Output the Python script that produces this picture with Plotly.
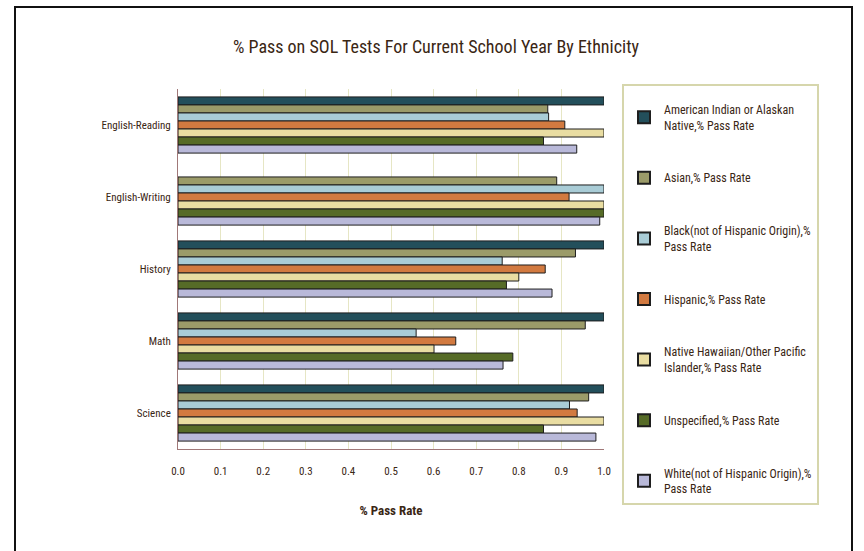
import plotly.graph_objects as go

categories = ["English-Reading", "English-Writing", "History", "Math", "Science"]

series_names = [
    "American Indian or Alaskan<br>Native,% Pass Rate",
    "Asian,% Pass Rate",
    "Black(not of Hispanic Origin),%<br>Pass Rate",
    "Hispanic,% Pass Rate",
    "Native Hawaiian/Other Pacific<br>Islander,% Pass Rate",
    "Unspecified,% Pass Rate",
    "White(not of Hispanic Origin),%<br>Pass Rate",
]

american_indian = [1.0, None, 1.0, 1.0, 1.0]
asian = [0.868, 0.889, 0.933, 0.956, 0.964]
black = [0.870, 1.0, 0.761, 0.559, 0.919]
hispanic = [0.908, 0.918, 0.862, 0.652, 0.937]
native_hawaiian = [1.0, 1.0, 0.800, 0.601, 1.0]
unspecified = [0.858, 1.0, 0.771, 0.786, 0.858]
white = [0.936, 0.990, 0.878, 0.763, 0.981]

series_values = [american_indian, asian, black, hispanic, native_hawaiian, unspecified, white]
colors = ["#234f5b", "#9b9b69", "#a9ccd6", "#d27a40", "#e9dda2", "#566b27", "#b9b9d9"]

x_ticks = [0.0, 0.1, 0.2, 0.3, 0.4, 0.5, 0.6, 0.7, 0.8, 0.9, 1.0]
x_tick_labels = ["0.0", "0.1", "0.2", "0.3", "0.4", "0.5", "0.6", "0.7", "0.8", "0.9", "1.0"]

FONT = "Liberation Sans Narrow, Roboto Condensed, DejaVu Sans Condensed, Arial Narrow, sans-serif"
TEXT = "#3a2614"

fig = go.Figure()
for i, (name, vals, col) in enumerate(zip(series_names, series_values, colors)):
    fig.add_trace(go.Bar(
        y=categories, x=vals, name=name, orientation="h",
        marker=dict(color=col, line=dict(color="#1e1e1e", width=1)),
        legendgroup=f"g{i}",
    ))

W, H = 864, 551
ml, mr, mt, mb = 178, 260, 89, 102
pw, ph = W - ml - mr, H - mt - mb

def px(xp):
    return (xp - ml) / pw

def py(yp):
    return (H - mb - yp) / ph

fig.update_layout(
    width=W, height=H,
    margin=dict(l=ml, r=mr, t=mt, b=mb),
    paper_bgcolor="white", plot_bgcolor="white",
    barmode="group", bargap=0.22, bargroupgap=0.0,
    font=dict(family=FONT, color=TEXT, size=11),
    title=dict(text="% Pass on SOL Tests For Current School Year By Ethnicity",
               x=436 / W, xanchor="center", y=1 - 47 / H, yanchor="middle",
               font=dict(family=FONT, size=18, color=TEXT)),
    xaxis=dict(range=[0, 1.0], tickvals=x_ticks, ticktext=x_tick_labels,
               showgrid=True, gridcolor="#e6e6c4", gridwidth=1,
               zeroline=False, showline=True, linecolor="#a07878", linewidth=1,
               ticks="", ticklabelstandoff=12,
               tickfont=dict(size=11, family=FONT, color=TEXT),
               title=dict(text="<b>% Pass Rate</b>", font=dict(size=13, family=FONT, color=TEXT),
                          standoff=28),
               mirror=False),
    yaxis=dict(autorange="reversed", showgrid=False, zeroline=False,
               showline=True, linecolor="#a07878", linewidth=1,
               ticks="", ticklabelstandoff=4,
               tickfont=dict(size=11, family=FONT, color=TEXT)),
    legend=dict(x=px(622), y=py(84), xanchor="left", yanchor="top",
                bgcolor="white", bordercolor="#d6d6ac", borderwidth=2,
                font=dict(size=12, family=FONT, color=TEXT),
                title=dict(text=" ", font=dict(size=7)),
                traceorder="grouped", tracegroupgap=34, itemwidth=30,
                itemsizing="constant", maxheight=480),
    showlegend=True,
)

fig.add_shape(type="rect", xref="paper", yref="paper",
              x0=px(15), x1=px(852), y0=py(560), y1=py(7),
              line=dict(color="#111111", width=2), fillcolor="rgba(0,0,0,0)", layer="above")

fig.write_html("out.html")
